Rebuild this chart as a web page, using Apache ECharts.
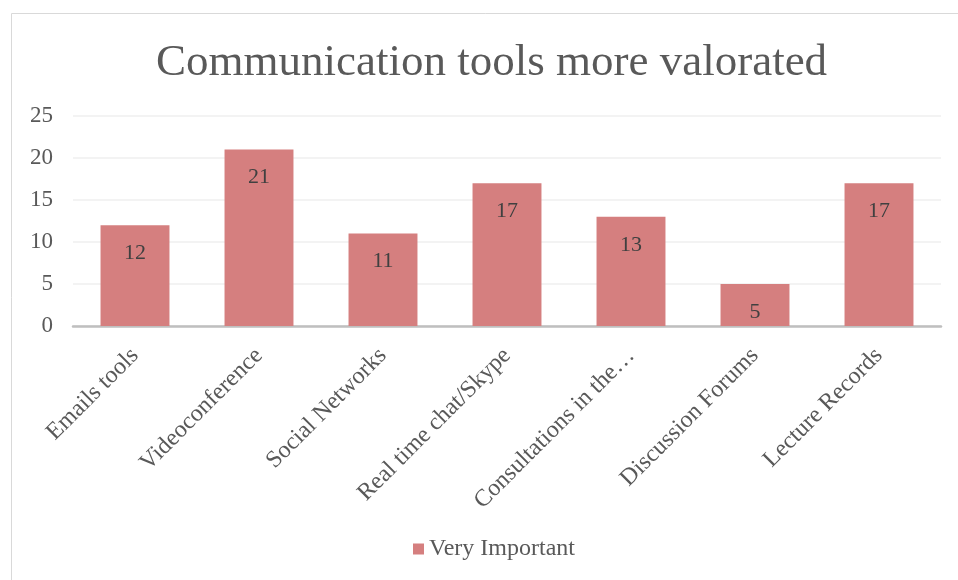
<!DOCTYPE html>
<html><head><meta charset="utf-8">
<script src="https://cdn.jsdelivr.net/npm/echarts@6/dist/echarts.min.js"></script>
<style>html,body{margin:0;padding:0;background:#fff}#c{width:958px;height:580px}</style>
</head><body><div id="c"></div>
<script>
const categories = ["Emails tools","Videoconference","Social Networks","Real time chat/Skype","Consultations in the…","Discussion Forums","Lecture Records"];
const veryImportant = [12,21,11,17,13,5,17];
const yTicks = {min:0, max:25, interval:5};

const chart = echarts.init(document.getElementById('c'));
const F = '"Liberation Serif","Times New Roman",serif';
chart.setOption({
  animation:false,
  graphic:[{type:'rect',shape:{x:11.5,y:13.5,width:960,height:600},style:{fill:'none',stroke:'#d9d9d9',lineWidth:1}}],
  title:{text:'Communication tools more valorated',left:151,top:36,
    textStyle:{fontFamily:F,fontSize:45,fontWeight:'normal',color:'#595959'}},
  legend:{bottom:14,left:408,itemWidth:11,itemHeight:11,itemGap:6,icon:'rect',
    textStyle:{fontFamily:F,fontSize:24,color:'#595959'}},
  grid:{left:73,right:17,top:116,bottom:254,containLabel:false},
  xAxis:{type:'category',data:categories,
    axisLine:{lineStyle:{color:'#bfbfbf',width:2.5}},axisTick:{show:false},
    axisLabel:{rotate:45,interval:0,fontFamily:F,fontSize:24,color:'#595959',margin:26}},
  yAxis:{type:'value',min:yTicks.min,max:yTicks.max,interval:yTicks.interval,
    axisLine:{show:false},axisTick:{show:false},
    splitLine:{lineStyle:{color:'#efefef',width:1.5}},
    axisLabel:{fontFamily:F,fontSize:23,color:'#595959',margin:20}},
  series:[{name:'Very Important',type:'bar',data:veryImportant,barWidth:'55.6%',
    itemStyle:{color:'#d57f7f'},
    label:{show:true,position:'insideTop',distance:17,fontFamily:F,fontSize:22,color:'#404040'}}]
});
</script></body></html>
